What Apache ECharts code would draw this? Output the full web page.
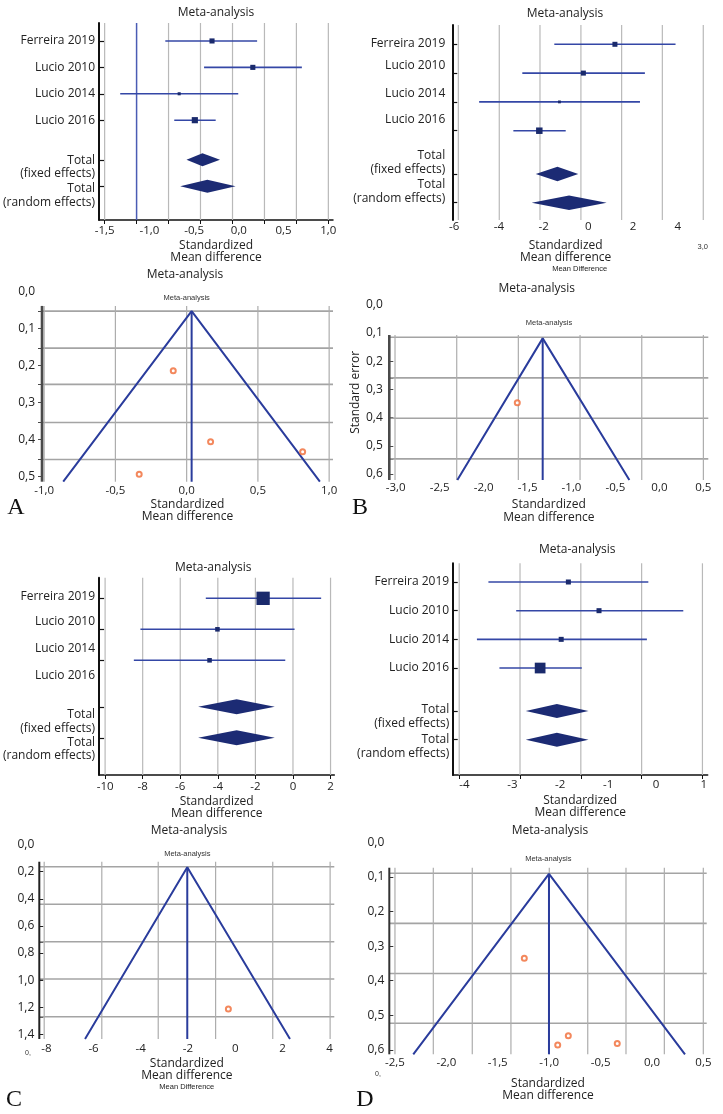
<!DOCTYPE html>
<html><head><meta charset="utf-8">
<script src="https://cdn.jsdelivr.net/npm/echarts@6/dist/echarts.min.js"></script>
<style>html,body{margin:0;padding:0;background:#fff}#c{width:723px;height:1114px}</style>
</head><body><div id="c"></div>
<script>
// ================= DATA =================
const studyNames = ['Ferreira 2019', 'Lucio 2010', 'Lucio 2014', 'Lucio 2016'];
const totalNames = ['Total\n(fixed effects)', 'Total\n(random effects)'];
const plotTitle = 'Meta-analysis';
const xAxisTitle = 'Standardized\nMean difference';
const seTitle = 'Standard error';

// ---- A: forest ----
const fA_est = [-0.30, 0.156, -0.667, -0.492];
const fA_lo  = [-0.822, -0.389, -1.326, -0.722];
const fA_hi  = [0.204, 0.704, -0.007, -0.259];
const fA_wt  = [26, 26, 9.5, 38];
const fA_fixed  = [-0.407, -0.585, -0.211];   // estimate, low, high
const fA_random = [-0.352, -0.656, -0.037];
const fA_xTicks = [-1.5, -1, -0.5, 0, 0.5, 1];
const fA_xGrid  = [-1.5, -1.143, -0.786, -0.429, -0.071, 0.286, 0.643, 1.0];

// ---- B: forest ----
const fB_est = [1.19, -0.22, -1.29, -2.19];
const fB_lo  = [-1.52, -2.95, -4.88, -3.35];
const fB_hi  = [3.90, 2.53, 2.31, -1.01];
const fB_wt  = [25, 25, 8, 42];
const fB_fixed  = [-1.38, -2.35, -0.45];
const fB_random = [-0.86, -2.53, 0.82];
const fB_xTicks = [-6, -4, -2, 0, 2, 4];
const fB_xGrid  = [-5.81, -3.98, -2.16, -0.33, 1.49, 3.31, 5.14];

// ---- C: forest ----
const fC_est = [-1.59, -4.02, -4.44, null];
const fC_lo  = [-4.64, -8.12, -8.47, null];
const fC_hi  = [1.50, 0.085, -0.41, null];
const fC_wt  = [81, 9.5, 9.5, null];
const fC_fixed  = [-3.0, -5.05, -0.97];
const fC_random = [-3.0, -5.05, -0.97];
const fC_xTicks = [-10, -8, -6, -4, -2, 0, 2];
const fC_xGrid  = [-10, -8, -6, -4, -2, 0, 2];

// ---- D: forest ----
const fD_est = [-1.83, -1.19, -1.98, -2.42];
const fD_lo  = [-3.50, -2.92, -3.74, -3.27];
const fD_hi  = [-0.16, 0.57, -0.19, -1.55];
const fD_wt  = [13.2, 13.2, 13.2, 60.4];
const fD_fixed  = [-2.07, -2.72, -1.41];
const fD_random = [-2.07, -2.72, -1.41];
const fD_xTicks = [-4, -3, -2, -1, 0, 1];
const fD_xGrid  = [-4.11, -2.84, -1.57, -0.30, 0.97];

// ---- A: funnel ----
const pA_smd = [-0.094, 0.168, 0.814, -0.333];
const pA_se  = [0.214, 0.406, 0.433, 0.494];
const pA_apex = [0.035, 0.053];
const pA_limits = [-0.866, 0.935];
const pA_baseSE = 0.514;
const pA_xTicks = [-1, -0.5, 0, 0.5, 1];
const pA_yTicks = [0, 0.1, 0.2, 0.3, 0.4, 0.5];
const pA_xGrid = [-1, -0.5, 0, 0.5, 1];
const pA_yGrid = [0.053, 0.153, 0.251, 0.354, 0.454];

// ---- B: funnel ----
const pB_smd = [-1.617];
const pB_se  = [0.347];
const pB_apex = [-1.328, 0.119];
const pB_limits = [-2.299, -0.342];
const pB_baseSE = 0.621;
const pB_xTicks = [-3, -2.5, -2, -1.5, -1, -0.5, 0, 0.5];
const pB_yTicks = [0, 0.1, 0.2, 0.3, 0.4, 0.5, 0.6];
const pB_xGrid = [-3.008, -2.306, -1.605, -0.903, -0.201, 0.5];
const pB_yGrid = [0.115, 0.259, 0.402, 0.546];

// ---- C: funnel ----
const pC_smd = [-0.29];
const pC_se  = [1.213];
const pC_apex = [-2.03, 0.168];
const pC_limits = [-6.36, 2.32];
const pC_baseSE = 1.434;
const pC_xTicks = [-8, -6, -4, -2, 0, 2, 4];
const pC_yTicks = [0, 0.2, 0.4, 0.6, 0.8, 1.0, 1.2, 1.4];
const pC_xGrid = [-8.09, -5.65, -3.26, -0.83, 1.59, 4.02];
const pC_yGrid = [0.164, 0.441, 0.717, 0.992, 1.270];

// ---- D: funnel ----
const pD_smd = [-1.242, -0.814, -0.917, -0.338];
const pD_se  = [0.335, 0.559, 0.586, 0.582];
const pD_apex = [-1.002, 0.091];
const pD_limits = [-2.322, 0.321];
const pD_baseSE = 0.613;
const pD_xTicks = [-2.5, -2, -1.5, -1, -0.5, 0, 0.5];
const pD_yTicks = [0, 0.1, 0.2, 0.3, 0.4, 0.5, 0.6];
const pD_xGrid = [-2.5, -2.127, -1.748, -1.372, -0.999, -0.625, -0.253, 0.120, 0.499];
const pD_yGrid = [0.089, 0.234, 0.379, 0.523];

// ================= LAYOUT / STYLE =================
const COL = {text:'#222', ci:'#3447a6', box:'#1a2a6c', diamond:'#1c2b74', grid:'#b9b9b9', gridHi:'#4a5cb4',
  funnel:'#2a3c9c', fGridH:'#a4a4a4', fGridV:'#adadad', point:'#f06a34', axis:'#111'};
const FONT = "'Open Sans', 'Noto Sans', sans-serif";
const FONT_SMALL = "'Liberation Sans', Arial, sans-serif";
const FONT_LETTER = "'Liberation Serif', 'Times New Roman', serif";

const LfA = {grid:{left:97.7, top:23, width:235.3, height:197}, x:[-1.562, 1.052], y:[-0.68, 6.78],
  studyRows:[0,1,2,3], totalRows:[4.5,5.5], labelRows:[0, 1.01, 2.01, 3.0, 4.78, 5.85], lineH:13.7,
  xLine:true, dec:1, xMargin:5, yMargin:4, nameGap:19, boxK:1.0, diamondH:13, highlight:1, title:[216, 13]};
const LfB = {grid:{left:452.3, top:25, width:252.7, height:195}, x:[-6.08, 5.217], y:[-0.67, 6.10],
  studyRows:[0,1,2,3], totalRows:[4.5,5.5], labelRows:[-0.035, 0.753, 1.70, 2.63, 4.10, 5.12], lineH:14.5,
  xLine:false, dec:0, xMargin:1, yMargin:7, nameGap:19, namePad:[0,26,0,0], extra:true, smallPad:28,
  boxK:1.0, diamondH:14.5, highlight:-1, title:[565, 13.3]};
const LfC = {grid:{left:97.7, top:577.7, width:236.6, height:197.3}, x:[-10.32, 2.20], y:[-0.665, 5.70],
  studyRows:[0,1,2,null], totalRows:[3.5,4.5], labelRows:[-0.05, 0.755, 1.613, 2.497, 3.98, 4.866], lineH:13.5,
  xLine:true, dec:0, xMargin:6, yMargin:4, nameGap:20, boxK:1.48, diamondH:15, highlight:-1, title:[213.3, 567.3]};
const LfD = {grid:{left:452.7, top:563.3, width:255, height:211.7}, x:[-4.246, 1.080], y:[-0.652, 6.73],
  studyRows:[0,1,2,3], totalRows:[4.5,5.5], labelRows:[0, 1, 2, 3, 4.68, 5.727], lineH:14,
  xLine:true, dec:0, xMargin:4, yMargin:3.5, nameGap:19, boxK:1.38, diamondH:14, highlight:-1, title:[577.3, 550]};

const LpA = {grid:{left:42, top:291.5, width:291, height:190.2}, x:[-1.015, 1.027], yTop:0.039, dec:1,
  xMargin:3.5, yMargin:7, nameGap:15, tickInside:false, axisColor:'#4a4a4a', axisW:2.6,
  title:[185, 275], small:[186.7, 297.7]};
const LpB = {grid:{left:389.3, top:304.8, width:319, height:175.2}, x:[-3.073, 0.556], yTop:0.107, dec:1,
  xMargin:2, yMargin:6.5, nameGap:18.5, tickInside:true, axisColor:'#4a4a4a', axisW:2.6, yName:seTitle,
  title:[536.7, 289], small:[549, 323.3]};
const LpC = {grid:{left:39.3, top:844.5, width:295, height:194.5}, x:[-8.297, 4.197], yTop:0.127, dec:0,
  xMargin:3.5, yMargin:5, nameGap:18, extra:true, smallPad:0, tickInside:true, axisColor:'#222', axisW:2,
  title:[189, 830.7], small:[187.3, 854]};
const LpD = {grid:{left:389.3, top:842.5, width:317.4, height:211.8}, x:[-2.555, 0.532], yTop:0.073, dec:1,
  xMargin:2.5, yMargin:5, nameGap:23, tickInside:true, axisColor:'#333', axisW:2,
  title:[550, 830.7], small:[548.3, 859]};

// ================= BUILD =================
const fmt = d => v => (d > 0 ? Number(v).toFixed(d) : String(Math.round(v))).replace('.', ',');
const option = {animation:false, backgroundColor:'#fff', title:[], grid:[], xAxis:[], yAxis:[], series:[], graphic:{elements:[]}};

function addTitle(text, cx, cy, size, family, color) {
  option.title.push({text, left:cx, top:cy - size * 0.6, textAlign:'center', padding:0,
    textStyle:{fontFamily:family, fontSize:size, fontWeight:'normal', color:color || COL.text, lineHeight:size * 1.2}});
}
function addText(text, x, y, size, family, color) {
  option.graphic.elements.push({type:'text', x, y, silent:true,
    style:{text, fontSize:size, fontFamily:family, fill:color || COL.text, align:'center', verticalAlign:'middle',
      textAlign:'center', textVerticalAlign:'middle'}});
}
function segRenderer(styleFn, vertical) {
  return function (params, api) {
    const v = api.value(0), s = api.value(1), e = api.value(2);
    const a = vertical ? api.coord([v, s]) : api.coord([s, v]);
    const b = vertical ? api.coord([v, e]) : api.coord([e, v]);
    return {type:'line', shape:{x1:a[0], y1:a[1], x2:b[0], y2:b[1]}, style:styleFn(params.dataIndex)};
  };
}
function studyRenderer(L) {
  return function (params, api) {
    const est = api.value(0), lo = api.value(1), hi = api.value(2), row = api.value(3), w = api.value(4);
    const a = api.coord([lo, row]), b = api.coord([hi, row]), c = api.coord([est, row]);
    const s = L.boxK * Math.sqrt(w);
    return {type:'group', children:[
      {type:'line', shape:{x1:a[0], y1:a[1], x2:b[0], y2:b[1]}, style:{stroke:COL.ci, lineWidth:1.6}},
      {type:'rect', shape:{x:c[0] - s / 2, y:c[1] - s / 2, width:s, height:s}, style:{fill:COL.box}}
    ]};
  };
}
function diamondRenderer(L) {
  return function (params, api) {
    const est = api.value(0), lo = api.value(1), hi = api.value(2), row = api.value(3);
    const a = api.coord([lo, row]), b = api.coord([hi, row]), c = api.coord([est, row]);
    const h = L.diamondH / 2;
    return {type:'polygon', shape:{points:[[a[0], a[1]], [c[0], c[1] - h], [b[0], b[1]], [c[0], c[1] + h]]},
      style:{fill:COL.diamond}};
  };
}
function xName(L) {
  return {
    name: xAxisTitle + (L.extra ? '\n{s|Mean Difference}' : ''), nameLocation:'middle', nameGap:L.nameGap,
    nameTextStyle:{fontFamily:FONT, fontSize:12, color:COL.text, lineHeight:12.5, padding:L.namePad || 0,
      rich:{s:{fontFamily:FONT_SMALL, fontSize:7.5, lineHeight:9, color:COL.text, padding:[0, 0, 0, L.smallPad || 0]}}}
  };
}

function forestPanel(L, D) {
  const gi = option.grid.length;
  option.grid.push(Object.assign({containLabel:false}, L.grid));
  option.xAxis.push(Object.assign({type:'value', gridIndex:gi, min:L.x[0], max:L.x[1],
    axisLine:{show:L.xLine, onZero:false, lineStyle:{color:COL.axis, width:1.5}},
    axisTick:{show:L.xLine, customValues:D.xGrid, length:4, lineStyle:{color:COL.axis, width:1}},
    axisLabel:{customValues:D.xTicks, formatter:fmt(L.dec), margin:L.xMargin, fontFamily:FONT, fontSize:11.5,
      color:COL.text, hideOverlap:false},
    splitLine:{show:false}}, xName(L)));
  const labels = studyNames.concat(totalNames);
  option.yAxis.push({type:'value', gridIndex:gi, min:L.y[0], max:L.y[1], inverse:true,
    axisLine:{show:true, onZero:false, lineStyle:{color:COL.axis, width:2}},
    axisTick:{show:true, customValues:L.studyRows.filter(r => r != null).concat(L.totalRows), inside:true, length:5,
      lineStyle:{color:COL.axis, width:1.2}},
    axisLabel:{customValues:L.labelRows, margin:L.yMargin, fontFamily:FONT, fontSize:12, color:COL.text,
      lineHeight:L.lineH, align:'right', hideOverlap:false,
      formatter:v => { const i = L.labelRows.findIndex(r => Math.abs(r - v) < 1e-6); return i >= 0 ? labels[i] : ''; }},
    splitLine:{show:false}});
  option.series.push({type:'custom', xAxisIndex:gi, yAxisIndex:gi, z:1, silent:true,
    data:D.xGrid.map(v => [v, L.y[0], L.y[1]]), encode:{x:0, y:[1, 2]},
    renderItem:segRenderer(i => ({stroke:i === L.highlight ? COL.gridHi : COL.grid, lineWidth:i === L.highlight ? 1.5 : 1.2}), true)});
  const sd = [];
  D.est.forEach((e, i) => { if (e != null && L.studyRows[i] != null) sd.push([e, D.lo[i], D.hi[i], L.studyRows[i], D.wt[i]]); });
  option.series.push({type:'custom', xAxisIndex:gi, yAxisIndex:gi, z:3, silent:true, data:sd,
    encode:{x:[0, 1, 2], y:3}, renderItem:studyRenderer(L)});
  option.series.push({type:'custom', xAxisIndex:gi, yAxisIndex:gi, z:3, silent:true,
    data:[D.fixed.concat([L.totalRows[0]]), D.random.concat([L.totalRows[1]])],
    encode:{x:[0, 1, 2], y:3}, renderItem:diamondRenderer(L)});
  addTitle(plotTitle, L.title[0], L.title[1], 12, FONT);
}

function funnelPanel(L, D) {
  const gi = option.grid.length;
  option.grid.push(Object.assign({containLabel:false}, L.grid));
  option.xAxis.push(Object.assign({type:'value', gridIndex:gi, min:L.x[0], max:L.x[1],
    axisLine:{show:false, onZero:false}, axisTick:{show:false},
    axisLabel:{customValues:D.xTicks, formatter:fmt(L.dec), margin:L.xMargin, fontFamily:FONT, fontSize:11.5,
      color:COL.text, hideOverlap:false},
    splitLine:{show:false}}, xName(L)));
  option.yAxis.push({type:'value', gridIndex:gi, min:0, max:D.baseSE, inverse:true,
    axisLine:{show:false, onZero:false},
    axisTick:{show:true, customValues:D.yTicks.filter(v => v >= L.yTop).concat(D.yGrid), inside:L.tickInside, length:4,
      lineStyle:{color:L.axisColor, width:1}},
    axisLabel:{customValues:D.yTicks, formatter:fmt(1), margin:L.yMargin, fontFamily:FONT, fontSize:12,
      color:COL.text, hideOverlap:false},
    splitLine:{show:false},
    name:L.yName || '', nameLocation:'middle', nameGap:26, nameTextStyle:{fontFamily:FONT, fontSize:12, color:COL.text}});
  option.series.push({type:'custom', xAxisIndex:gi, yAxisIndex:gi, z:1, silent:true,
    data:D.yGrid.map(h => [h, L.x[0], L.x[1]]), encode:{y:0, x:[1, 2]},
    renderItem:segRenderer(() => ({stroke:COL.fGridH, lineWidth:1.6}), false)});
  option.series.push({type:'custom', xAxisIndex:gi, yAxisIndex:gi, z:1, silent:true,
    data:D.xGrid.map(v => [v, L.yTop, D.baseSE]), encode:{x:0, y:[1, 2]},
    renderItem:segRenderer(() => ({stroke:COL.fGridV, lineWidth:1.2}), true)});
  option.series.push({type:'custom', xAxisIndex:gi, yAxisIndex:gi, z:2, silent:true,
    data:[[L.x[0], L.yTop, D.baseSE]], encode:{x:0, y:[1, 2]},
    renderItem:segRenderer(() => ({stroke:L.axisColor, lineWidth:L.axisW}), true)});
  option.series.push({type:'line', xAxisIndex:gi, yAxisIndex:gi, z:3, silent:true, symbol:'none',
    data:[[D.limits[0], D.baseSE], D.apex, [D.limits[1], D.baseSE]], lineStyle:{color:COL.funnel, width:2}});
  option.series.push({type:'line', xAxisIndex:gi, yAxisIndex:gi, z:3, silent:true, symbol:'none',
    data:[D.apex, [D.apex[0], D.baseSE]], lineStyle:{color:COL.funnel, width:2}});
  option.series.push({type:'scatter', xAxisIndex:gi, yAxisIndex:gi, z:4, silent:true,
    data:D.smd.map((x, i) => [x, D.se[i]]), symbol:'emptyCircle', symbolSize:5,
    itemStyle:{color:COL.point, borderColor:COL.point, borderWidth:1.2}});
  addTitle(plotTitle, L.title[0], L.title[1], 12, FONT);
  addTitle(plotTitle, L.small[0], L.small[1], 7.5, FONT_SMALL, '#333');
}

forestPanel(LfA, {est:fA_est, lo:fA_lo, hi:fA_hi, wt:fA_wt, fixed:fA_fixed, random:fA_random, xTicks:fA_xTicks, xGrid:fA_xGrid});
forestPanel(LfB, {est:fB_est, lo:fB_lo, hi:fB_hi, wt:fB_wt, fixed:fB_fixed, random:fB_random, xTicks:fB_xTicks, xGrid:fB_xGrid});
forestPanel(LfC, {est:fC_est, lo:fC_lo, hi:fC_hi, wt:fC_wt, fixed:fC_fixed, random:fC_random, xTicks:fC_xTicks, xGrid:fC_xGrid});
forestPanel(LfD, {est:fD_est, lo:fD_lo, hi:fD_hi, wt:fD_wt, fixed:fD_fixed, random:fD_random, xTicks:fD_xTicks, xGrid:fD_xGrid});
funnelPanel(LpA, {smd:pA_smd, se:pA_se, apex:pA_apex, limits:pA_limits, baseSE:pA_baseSE, xTicks:pA_xTicks, yTicks:pA_yTicks, xGrid:pA_xGrid, yGrid:pA_yGrid});
funnelPanel(LpB, {smd:pB_smd, se:pB_se, apex:pB_apex, limits:pB_limits, baseSE:pB_baseSE, xTicks:pB_xTicks, yTicks:pB_yTicks, xGrid:pB_xGrid, yGrid:pB_yGrid});
funnelPanel(LpC, {smd:pC_smd, se:pC_se, apex:pC_apex, limits:pC_limits, baseSE:pC_baseSE, xTicks:pC_xTicks, yTicks:pC_yTicks, xGrid:pC_xGrid, yGrid:pC_yGrid});
funnelPanel(LpD, {smd:pD_smd, se:pD_se, apex:pD_apex, limits:pD_limits, baseSE:pD_baseSE, xTicks:pD_xTicks, yTicks:pD_yTicks, xGrid:pD_xGrid, yGrid:pD_yGrid});

// panel letters and stray marks from the source figure
addText('A', 16, 508, 24, FONT_LETTER, '#111');
addText('B', 360, 508, 24, FONT_LETTER, '#111');
addText('C', 14, 1100, 24, FONT_LETTER, '#111');
addText('D', 365, 1100, 24, FONT_LETTER, '#111');
addText('3,0', 702.7, 246.7, 7.5, FONT_SMALL, '#333');
addText('0,', 28, 1053.3, 7, FONT_SMALL, '#333');
addText('0,', 378, 1074.3, 7, FONT_SMALL, '#333');

const chart = echarts.init(document.getElementById('c'), null, {renderer:'canvas'});
chart.setOption(option);
</script></body></html>
